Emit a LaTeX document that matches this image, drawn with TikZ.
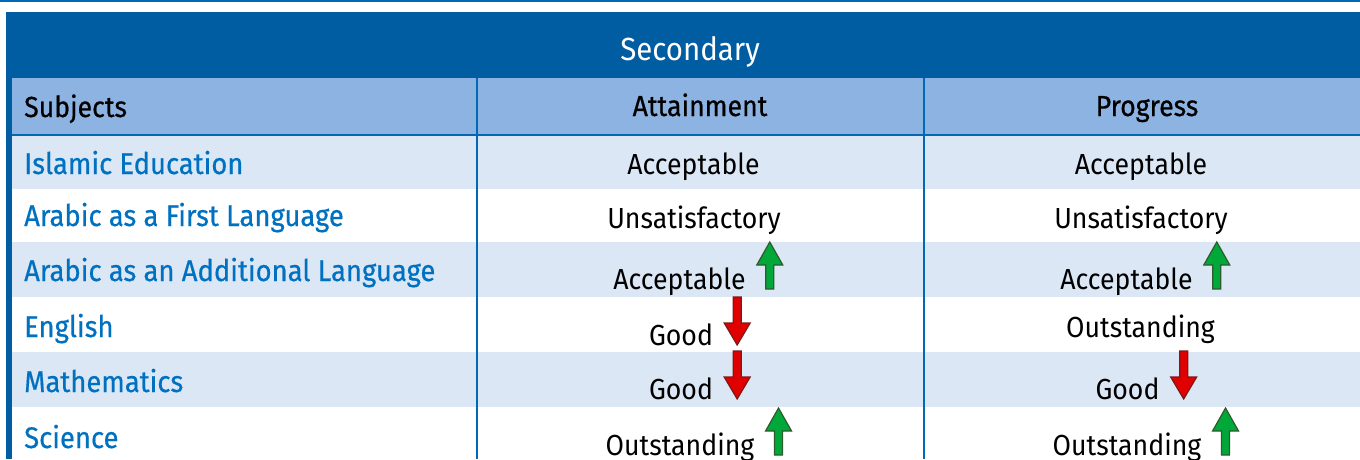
\documentclass[tikz,border=0pt]{standalone}
\usepackage{fontspec}
\setmainfont{Fira Sans}[FakeStretch=0.92]
\definecolor{darkblue}{HTML}{005DA2}
\definecolor{headrow}{HTML}{8DB3E2}
\definecolor{lightrow}{HTML}{DCE7F6}
\definecolor{subjblue}{HTML}{0070C0}
\definecolor{linecol}{HTML}{0068B5}
\definecolor{upgreen}{HTML}{00A83A}
\definecolor{upedge}{HTML}{2E5A2E}
\definecolor{downred}{HTML}{E00000}
\definecolor{downedge}{HTML}{7A1A1A}
\tikzset{
  cell/.style={inner sep=0pt, anchor=base, font=\fontsize{29}{34}\selectfont},
  subj/.style={inner sep=0pt, anchor=base west, text=subjblue, font=\fontsize{29.8}{34}\selectfont\addfontfeature{FakeBold=0.5}},
  head/.style={cell, font=\fontsize{29}{34}\selectfont\addfontfeature{FakeBold=0.6}},
  title/.style={inner sep=0pt, anchor=base, text=white, font=\fontsize{32}{38}\selectfont},
  uparrowshape/.style={fill=upgreen, draw=upedge, line width=1.2pt, line join=miter},
  downarrowshape/.style={fill=downred, draw=downedge, line width=1.2pt, line join=miter},
}
\newcommand\upmark[1]{\draw[uparrowshape, shift={(#1)}, xshift=11pt]
  (9,0) -- (9,-24) -- (0,-24) -- (13,-47) -- (26,-24) -- (17,-24) -- (17,0) -- cycle;}
\newcommand\downmark[1]{\draw[downarrowshape, shift={(#1)}, xshift=11pt]
  (9,-48) -- (9,-22) -- (0,-22) -- (13,0) -- (26,-22) -- (17,-22) -- (17,-48) -- cycle;}
\begin{document}
\begin{tikzpicture}[x=1pt, y=-1pt]
\useasboundingbox (0,0) rectangle (1360,459);
% top thin line
\fill[linecol] (0,0) rectangle (1360,2);
% header band
\fill[darkblue] (6,12) rectangle (1360,78);
% left border
\fill[darkblue] (6,78) rectangle (12,459);
% header row
\fill[headrow] (12,78) rectangle (1360,134);
\fill[linecol] (12,134) rectangle (1360,136);
% body rows
\fill[lightrow] (12,136) rectangle (1360,189);
\fill[lightrow] (12,242) rectangle (1360,297);
\fill[lightrow] (12,352) rectangle (1360,407);
% column separators
\fill[linecol] (476,78) rectangle (478,459);
\fill[linecol] (923,78) rectangle (925,459);

% title
\node[title] (t) at (690,60) {Secondary};
% header texts
\node[head, anchor=base west] (h1) at (24,117) {Subjects};
\node[head] (h2) at (700,116) {Attainment};
\node[head] (h3) at (1147,116) {Progress};

% subjects
\node[subj] (s1) at (24,174) {Islamic Education};
\node[subj] (s2) at (24,226) {Arabic as a First Language};
\node[subj] (s3) at (24,281) {Arabic as an Additional Language};
\node[subj] (s4) at (24,337) {English};
\node[subj] (s5) at (24,392) {Mathematics};
\node[subj] (s6) at (24,448) {Science};

% attainment
\node[cell] (a1) at (693.5,174) {Acceptable};
\node[cell] (a2) at (694,228) {Unsatisfactory};
\node[cell] (a3) at (679.5,289) {Acceptable};
\node[cell] (a4) at (681,345) {Good};
\node[cell] (a5) at (681,399) {Good};
\node[cell] (a6) at (680,455) {Outstanding};
\upmark{a3.base east}
\downmark{a4.base east}
\downmark{a5.base east}
\upmark{a6.base east}

% progress
\node[cell] (p1) at (1141,174) {Acceptable};
\node[cell] (p2) at (1141,228) {Unsatisfactory};
\node[cell] (p3) at (1126.5,289) {Acceptable};
\node[cell] (p4) at (1140.5,337) {Outstanding};
\node[cell] (p5) at (1127.5,399) {Good};
\node[cell] (p6) at (1127,455) {Outstanding};
\upmark{p3.base east}
\downmark{p5.base east}
\upmark{p6.base east}
\end{tikzpicture}
\end{document}
